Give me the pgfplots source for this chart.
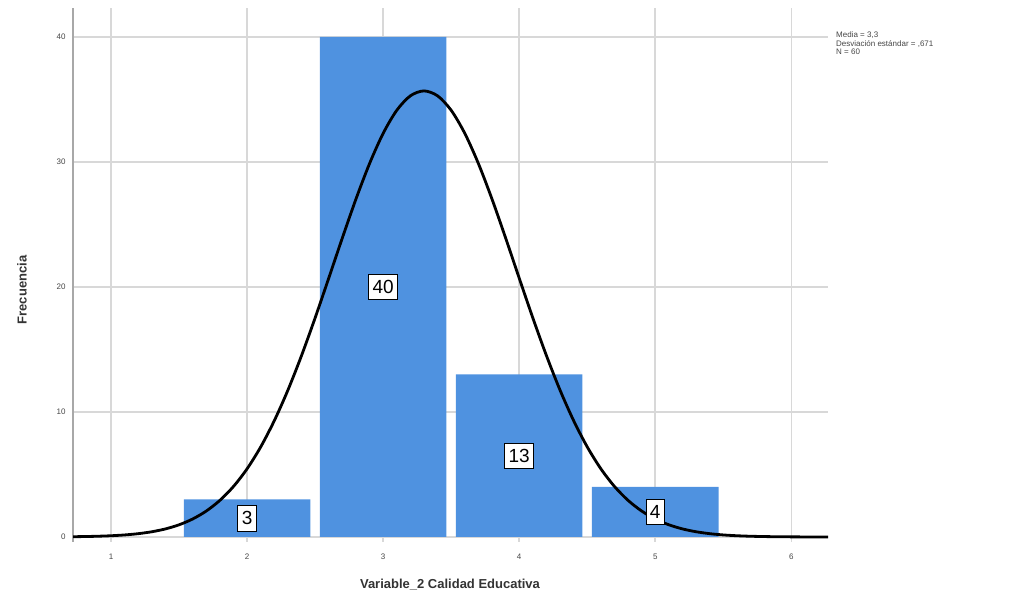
\documentclass[border=0pt]{standalone}
\usepackage{pgfplots}
\pgfplotsset{compat=1.18}
\usepackage{fontspec}
\setmainfont{Liberation Sans}
\definecolor{barblue}{RGB}{79,146,224}
\definecolor{gridgray}{RGB}{216,216,216}
\definecolor{axisgray}{RGB}{168,168,168}
\definecolor{ticktext}{RGB}{70,70,70}
\begin{document}
\begin{tikzpicture}[x=1pt,y=1pt]
\useasboundingbox (0,0) rectangle (1012,599);
\begin{axis}[
  at={(73pt,57pt)}, anchor=south west,
  scale only axis, width=755pt, height=534pt,
  xmin=0.72, xmax=6.27, ymin=-0.4, ymax=42.3,
  axis x line*=bottom, axis y line*=left,
  x axis line style={draw=none},
  y axis line style={draw=axisgray, line width=2.5pt, -},
  xtick={1,2,3,4,5,6}, ytick={0,10,20,30,40},
  major tick length=0pt,
  xmajorgrids, ymajorgrids,
  grid style={gridgray, line width=1.5pt},
  /pgf/number format/assume math mode=true,
  tick label style={font=\fontsize{8}{9}\selectfont, text=ticktext},
  xticklabel style={yshift=-8pt},
  yticklabel style={xshift=-4pt},
  clip=true,
]
\addplot[ybar, bar width=0.93, bar shift=0pt, fill=barblue, draw=none]
  coordinates {(2,3) (3,40) (4,13) (5,4)};
\addplot[draw=none, nodes near coords, point meta=explicit symbolic,
  nodes near coords style={anchor=center, fill=white, draw=black, line width=0.7pt,
    font=\fontsize{19}{20}\selectfont, inner xsep=4pt, inner ysep=6pt}]
  coordinates {(2,1.5)[3] (3,20)[40] (4,6.5)[13] (5,2)[4]};
\addplot[black, line width=2.8pt, smooth] coordinates {
  (0.7,0.020) (0.8,0.035) (0.9,0.060) (1.0,0.100) (1.1,0.165) (1.2,0.266)
  (1.3,0.420) (1.4,0.647) (1.5,0.977) (1.6,1.441) (1.7,2.078) (1.8,2.931)
  (1.9,4.045) (2.0,5.459) (2.1,7.207) (2.2,9.306) (2.3,11.749) (2.4,14.509)
  (2.5,17.524) (2.6,20.700) (2.7,23.915) (2.8,27.023) (2.9,29.863) (3.0,32.277)
  (3.1,34.120) (3.2,35.276) (3.3,35.670) (3.4,35.276) (3.5,34.120) (3.6,32.277)
  (3.7,29.863) (3.8,27.023) (3.9,23.915) (4.0,20.700) (4.1,17.524) (4.2,14.509)
  (4.3,11.749) (4.4,9.306) (4.5,7.207) (4.6,5.459) (4.7,4.045) (4.8,2.931)
  (4.9,2.078) (5.0,1.441) (5.1,0.977) (5.2,0.647) (5.3,0.420) (5.4,0.266)
  (5.5,0.165) (5.6,0.100) (5.7,0.060) (5.8,0.035) (5.9,0.020) (6.0,0.011)
  (6.1,0.006) (6.2,0.003) (6.3,0.001)};
\end{axis}
\node[anchor=north west, align=left, inner sep=0pt, font=\fontsize{8}{8.5}\selectfont, text=ticktext]
  at (836,567) {Media = 3,3\\Desviación estándar = ,671\\N = 60};
\node[rotate=90, font=\fontsize{13}{15}\selectfont\bfseries, text=black!80] at (22,309) {Frecuencia};
\node[font=\fontsize{13}{15}\selectfont\bfseries, text=black!80] at (450,14) {Variable\_2 Calidad Educativa};
\end{tikzpicture}
\end{document}
